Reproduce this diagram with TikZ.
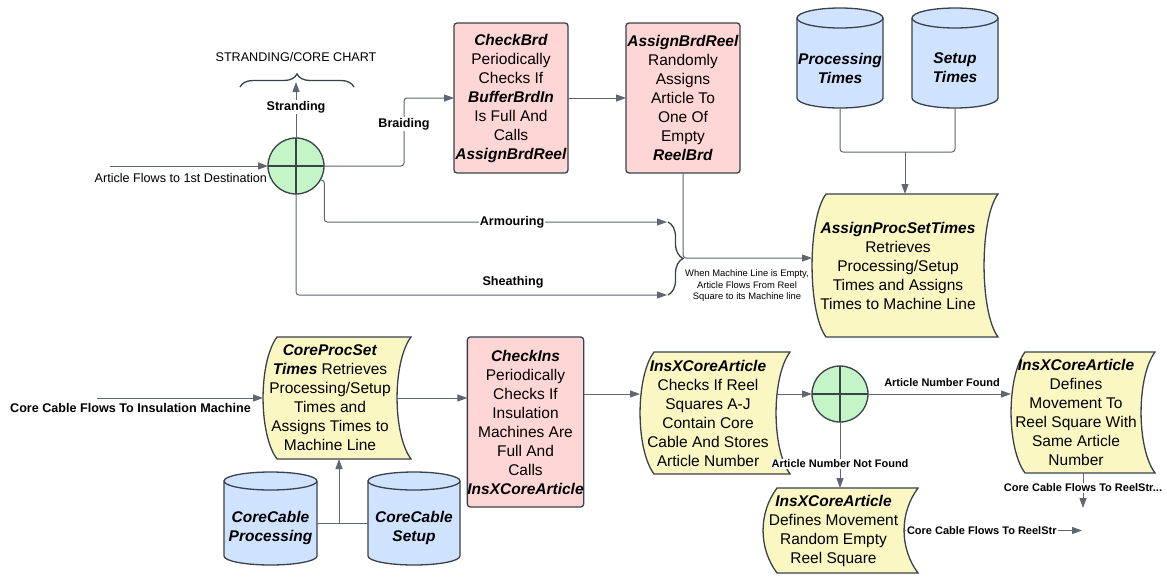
\documentclass[tikz,border=0pt]{standalone}
\usepackage{fontspec}
\setmainfont{Liberation Sans}
\usetikzlibrary{arrows.meta,decorations.pathreplacing}
\pgfdeclarelayer{paper}
\pgfdeclarelayer{shapes}
\pgfsetlayers{paper,shapes,main}

\definecolor{edge}{HTML}{3A414A}
\definecolor{wire}{HTML}{5F6670}
\definecolor{pinkfill}{HTML}{FFD6D6}
\definecolor{yellowfill}{HTML}{FAF7C3}
\definecolor{bluefill}{HTML}{CFE3FF}
\definecolor{greenfill}{HTML}{C3F5C6}

\newcommand\bi[1]{\textbf{\textit{#1}}}

\tikzset{
  every node/.style={inner sep=0pt, outer sep=0pt},
  body/.style={font=\fontsize{15.5}{19}\selectfont, align=center},
  procbox/.style={body, draw=edge, fill=pinkfill, line width=1.3pt, rounded corners=3pt},
  docbox/.style={body},
  docshape/.style={draw=edge, fill=yellowfill, line width=1.3pt},
  dbbox/.style={body, font=\fontsize{15.5}{19}\selectfont\bfseries\itshape},
  dbshape/.style={draw=edge, fill=bluefill, line width=1.3pt},
  junction/.style={circle, draw=edge, fill=greenfill, line width=1.3pt, minimum size=56pt,
    path picture={\draw[edge, line width=1.3pt]
      (path picture bounding box.north) -- (path picture bounding box.south)
      (path picture bounding box.west) -- (path picture bounding box.east);}},
  conn/.style={draw=wire, line width=1pt, rounded corners=3pt},
  arrow/.style={conn, -{Triangle[length=10pt,width=7pt]}},
  flowlbl/.style={font=\fontsize{12.6}{15}\selectfont\bfseries, fill=white, inner sep=1pt},
  smalllbl/.style={font=\fontsize{11}{13}\selectfont\bfseries, fill=white, inner sep=1pt},
  plainlbl/.style={font=\fontsize{12.6}{15}\selectfont},
  notelbl/.style={font=\fontsize{9.4}{11.5}\selectfont, align=center},
  bracestyle/.style={draw=edge, line width=1.3pt, decorate, decoration={brace, amplitude=#1}},
}

\begin{document}
\begin{tikzpicture}[x=1pt,y=1pt]
\begin{pgfonlayer}{paper}
  \path[fill=white, use as bounding box] (0,-576) rectangle (1167,0);
\end{pgfonlayer}

% ---------- process boxes ----------
\node[procbox, minimum width=114pt, minimum height=150pt] (cb) at (511,-98)
  {\bi{CheckBrd}\\Periodically\\Checks If\\\bi{BufferBrdIn}\\Is Full And\\Calls\\\bi{AssignBrdReel}};
\node[procbox, minimum width=114pt, minimum height=150pt] (abr) at (683,-98)
  {\bi{AssignBrdReel}\\Randomly\\Assigns\\Article To\\One Of\\Empty\\\bi{ReelBrd}};
\node[procbox, minimum width=115pt, minimum height=170pt] (ci) at (525.5,-422)
  {\bi{CheckIns}\\Periodically\\Checks If\\Insulation\\Machines Are\\Full And\\Calls\\\bi{InsXCoreArticle}};

% ---------- stored-data blocks (text area; outline drawn below) ----------
\node[docbox, minimum width=172pt, minimum height=143pt] (aps) at (898,-265.5)
  {\bi{AssignProcSetTimes}\\Retrieves\\Processing/Setup\\Times and Assigns\\Times to Machine Line};
\node[docbox, minimum width=134pt, minimum height=122pt] (cps) at (330,-398)
  {\bi{CoreProcSet}\\\bi{Times} Retrieves\\Processing/Setup\\Times and\\Assigns Times to\\Machine Line};
\node[docbox, minimum width=136pt, minimum height=122pt] (ix1) at (708,-413)
  {\bi{InsXCoreArticle}\\Checks If Reel\\Squares A-J\\Contain Core\\Cable And Stores\\Article Number};
\node[docbox, minimum width=130pt, minimum height=121pt] (ix2) at (1076,-412.5)
  {\bi{InsXCoreArticle}\\Defines\\Movement To\\Reel Square With\\Same Article\\Number};
\node[docbox, minimum width=141pt, minimum height=85pt] (ix3) at (833.5,-530.5)
  {\bi{InsXCoreArticle}\\Defines Movement\\Random Empty\\Reel Square};

% ---------- databases (text area; outline drawn below) ----------
\node[dbbox, minimum width=86pt, minimum height=80pt] (pt) at (840,-68) {Processing\\Times};
\node[dbbox, minimum width=86pt, minimum height=80pt] (st) at (955,-68) {Setup\\Times};
\node[dbbox, minimum width=93pt, minimum height=75pt] (ccp) at (270.5,-527.5) {CoreCable\\Processing};
\node[dbbox, minimum width=92pt, minimum height=75pt] (ccs) at (414,-527.5) {CoreCable\\Setup};

% ---------- junctions ----------
\node[junction] (c1) at (296,-166) {};
\node[junction] (c2) at (840,-394) {};

% ---------- outlines behind the text ----------
\begin{pgfonlayer}{shapes}
  \foreach \n in {aps,cps,ix1,ix2,ix3}{
    \draw[docshape] ([xshift=14pt]\n.north west) -- ([xshift=14pt]\n.north east)
      .. controls +(-18.6,-25) and +(-18.6,25) .. ([xshift=14pt]\n.south east)
      -- ([xshift=14pt]\n.south west)
      .. controls +(-18.6,25) and +(-18.6,-25) .. ([xshift=14pt]\n.north west) -- cycle;
  }
  \foreach \n/\r/\q in {pt/43/10, st/43/10, ccp/46.5/9, ccs/46/9}{
    \draw[dbshape] ([yshift=\q]\n.north west) -- ([yshift=\q]\n.south west)
      arc[start angle=180, end angle=360, x radius=\r, y radius=\q]
      -- ([yshift=\q]\n.north east)
      arc[start angle=0, end angle=180, x radius=\r, y radius=\q] -- cycle;
    \draw[edge, line width=1.3pt] ([yshift=\q]\n.north east)
      arc[start angle=0, end angle=-180, x radius=\r, y radius=\q];
  }
\end{pgfonlayer}

% ---------- free ends and bends ----------
\coordinate (in1) at (110,-166);
\coordinate (in2) at (97,-398);
\coordinate (chartbrace) at (296,-82);
\coordinate (bl) at (240,-87);
\coordinate (brr) at (354,-87);
\coordinate (bend) at (404,-166);
\coordinate (armend) at (667,-222);
\coordinate (shend) at (667,-295);
\coordinate (jn) at (683,-258);
\coordinate (jt) at (905,-152);
\coordinate (jb) at (339,-523);
\coordinate (cf1) at (1083,-508);
\coordinate (cf2) at (1082,-530.5);

% ---------- upper flow ----------
\node[plainlbl] (chart) at (296,-57) {STRANDING/CORE CHART};
\draw[bracestyle=13] (bl) -- (brr);
\draw[arrow] (c1.north) -- (chartbrace);
\node[flowlbl] (lstr) at (296,-107) {Stranding};

\draw[arrow] (in1) -- (c1.west);
\node[plainlbl, anchor=east] (lart) at (267,-178) {Article Flows to 1st Destination};

\draw[arrow] (c1.east) -- (bend) |- (cb.west);
\node[flowlbl] (lbrd) at (404,-124) {Braiding};
\draw[arrow] (cb.east) -- (abr.west);

\draw[arrow] (c1.-30) -- ++(4,0) |- (armend);
\node[flowlbl] (larm) at (512,-222) {Armouring};
\draw[arrow] (c1.south) |- (shend);
\node[flowlbl] (lsh) at (513,-282) {Sheathing};
\draw[bracestyle=15] ([xshift=1pt]armend) -- ([xshift=1pt]shend);

\draw[arrow] (abr.south) |- (aps.west |- jn);
\node[notelbl] (note) at (747,-286) {When Machine Line is Empty,\\Article Flows From Reel\\Square to its Machine line};

\draw[conn] (pt.south) |- (jt);
\draw[conn] (st.south) |- (jt);
\draw[arrow] (jt) -- (jt |- aps.north);

% ---------- lower flow ----------
\draw[arrow] (in2) -- (cps.west);
\node[flowlbl] (lins) at (130.5,-408) {Core Cable Flows To Insulation Machine};
\draw[arrow] (cps.east) -- (ci.west |- cps.east);
\draw[conn] (ccp.east |- jb) -- (ccs.west |- jb);
\draw[arrow] (jb) -- (jb |- cps.south);

\draw[arrow] (ci.east |- c2) -- (ix1.west |- c2);
\draw[arrow] (ix1.east |- c2) -- (c2.west);
\draw[arrow] (c2.east) -- (ix2.west |- c2);
\node[smalllbl] (lfound) at (942,-383) {Article Number Found};
\draw[arrow] (c2.south) -- (c2.south |- ix3.north);
\node[smalllbl] (lnot) at (840,-464) {Article Number Not Found};

\draw[arrow] (ix2.south -| cf1) -- (cf1);
\node[smalllbl] (lreel1) at (1083,-488) {Core Cable Flows To ReelStr...};
\draw[arrow] (ix3.east) -- (cf2);
\node[smalllbl, anchor=west] (lreel2) at (906,-530.5) {Core Cable Flows To ReelStr};
\end{tikzpicture}
\end{document}
